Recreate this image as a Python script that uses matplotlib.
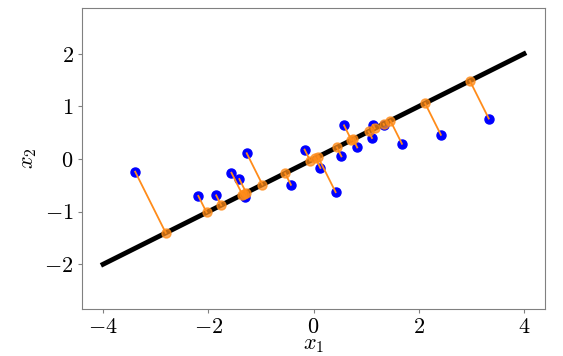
import matplotlib
matplotlib.use("Agg")
import matplotlib.pyplot as plt
import numpy as np
from matplotlib.ticker import FuncFormatter

plt.rcParams['mathtext.fontset'] = 'cm'
plt.rcParams['font.family'] = 'serif'
plt.rcParams['font.serif'] = ['cmr10', 'DejaVu Serif']
plt.rcParams['axes.unicode_minus'] = False

# observed points (x1, x2)
x1 = [-3.39, -2.19, -1.85, -1.56, -1.41, -1.30, -1.27, -0.43, -0.17, 0.13,
      0.42, 0.53, 0.58, 0.83, 1.11, 1.13, 1.34, 1.68, 2.42, 3.33]
x2 = [-0.24, -0.70, -0.69, -0.26, -0.38, -0.72, 0.11, -0.49, 0.18, -0.17,
      -0.63, 0.05, 0.64, 0.22, 0.40, 0.65, 0.65, 0.29, 0.46, 0.77]

# principal direction and extent of the drawn line
direction = [2.0, 1.0]
line_x = [-4, 4]


def plot_pca():
    X = np.column_stack([x1, x2])
    u = np.array(direction) / np.linalg.norm(direction)
    Xrecon = np.outer(X @ u, u)

    fig = plt.figure(figsize=(5.63, 3.56), dpi=100)
    ax = fig.add_axes([0.1457, 0.132, 0.8224, 0.8455])

    lx = np.array(line_x, dtype=float)
    ax.plot(lx, lx * u[1] / u[0], 'k-', lw=3.5, zorder=2)
    ax.plot(X[:, 0], X[:, 1], 'o', color='blue', ms=6.5, zorder=1)
    for i in range(len(X)):
        ax.plot([X[i, 0], Xrecon[i, 0]], [X[i, 1], Xrecon[i, 1]], '-',
                color='#ff8c1a', lw=1.3, zorder=3)
    ax.plot(Xrecon[:, 0], Xrecon[:, 1], 'o', color='#ff8c1a', alpha=0.75,
            ms=6.5, zorder=4)

    ax.set_xlim(-4.4, 4.4)
    ax.set_ylim(-2.85, 2.87)
    ax.set_xticks([-4, -2, 0, 2, 4])
    ax.set_yticks([-2, -1, 0, 1, 2])
    fmt = FuncFormatter(lambda v, p: r'$%d$' % v)
    ax.xaxis.set_major_formatter(fmt)
    ax.yaxis.set_major_formatter(fmt)
    ax.tick_params(labelsize=16, color='0.5', length=3, width=0.8, pad=3)
    for s in ax.spines.values():
        s.set_color('0.5')
    ax.set_xlabel(r'$x_1$', fontsize=16, labelpad=-1)
    ax.set_ylabel(r'$x_2$', fontsize=16, labelpad=4)

    plt.savefig('out.png', dpi=100)


if __name__ == "__main__":
    plot_pca()
